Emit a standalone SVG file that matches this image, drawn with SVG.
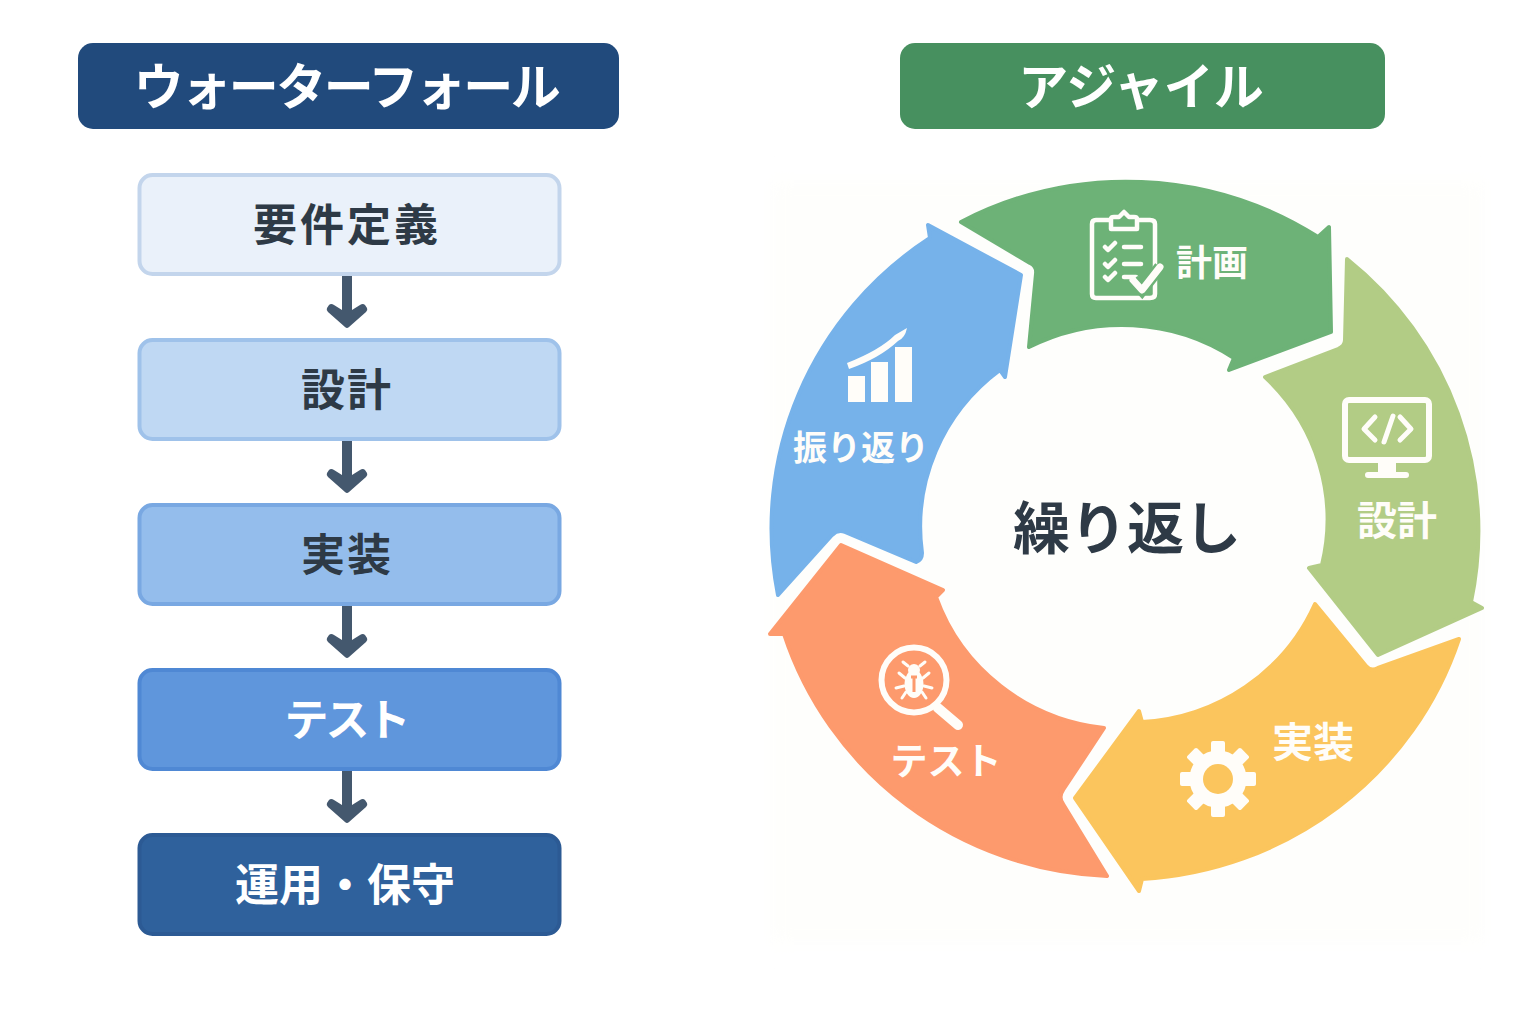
<svg xmlns="http://www.w3.org/2000/svg" width="1536" height="1024" viewBox="0 0 1536 1024">
<style>
text{font-family:"Noto Sans CJK JP","Noto Sans",sans-serif;text-anchor:middle;dominant-baseline:central}
.hd{font-size:50px;font-weight:700;fill:#fff}
.bx{font-size:44px;font-weight:700;fill:#2e3a46}
.lb{font-weight:700;fill:#fffdf9}
.seg{stroke-width:4;stroke-linejoin:round}
.ic{fill:none;stroke:#fffdf9;stroke-linecap:round;stroke-linejoin:round}
.if{fill:#fffdf9}
.arr{fill:#44586e}
</style>
<defs><filter id="soft" x="-5%" y="-5%" width="110%" height="110%"><feGaussianBlur stdDeviation="10"/></filter>
<path id="ar" d="M342,276H352V310L360,305Q363,303 365,305L367,308Q368,310 366,312L349,327Q347,329 345,327L328,312Q326,310 327,308L329,305Q331,303 334,305L342,310Z"/></defs>
<rect width="1536" height="1024" fill="#fff"/>
<rect x="770" y="180" width="715" height="765" fill="#fefefc" filter="url(#soft)"/>

<g id="header-waterfall"><rect x="78" y="43" width="541" height="86" rx="15" fill="#214a7c"/><text class="hd" x="346" y="83" letter-spacing="-2.500">ウォーターフォール</text></g>
<g id="header-agile"><rect x="900" y="43" width="485" height="86" rx="15" fill="#47905f"/><text class="hd" x="1141" y="83">アジャイル</text></g>

<g id="connectors" class="arr">
<use href="#ar"/><use href="#ar" y="165"/><use href="#ar" y="330"/><use href="#ar" y="495"/>
</g>

<g id="wf-1"><rect x="139.500" y="175" width="420" height="99" rx="13" fill="#eaf1fa" stroke="#c3d5ec" stroke-width="4"/><text class="bx" x="347" y="222" letter-spacing="3">要件定義</text></g>
<g id="wf-2"><rect x="139.500" y="340" width="420" height="99" rx="13" fill="#bfd8f3" stroke="#9fc2ea" stroke-width="4"/><text class="bx" x="347" y="387" letter-spacing="2">設計</text></g>
<g id="wf-3"><rect x="139.500" y="505" width="420" height="99" rx="13" fill="#94bdec" stroke="#79a8e2" stroke-width="4"/><text class="bx" x="347" y="552" letter-spacing="2">実装</text></g>
<g id="wf-4"><rect x="139.500" y="670" width="420" height="99" rx="13" fill="#5f96dc" stroke="#4f88d4" stroke-width="4"/><text class="bx" x="346" y="717" style="fill:#fff" letter-spacing="-3">テスト</text></g>
<g id="wf-5"><rect x="139.500" y="835" width="420" height="99" rx="13" fill="#2f619c" stroke="#2c5a94" stroke-width="4"/><text class="bx" x="345" y="882" style="fill:#fff">運用・保守</text></g>

<g id="seg-plan">
<path class="seg" fill="#6db277" stroke="#6db277" d="M961,222A355 350 0 0 1 1318,237L1329,227L1331,332L1229,370L1234,358A202 197 0 0 0 1029,347L1036,274Q1037,266 1030,263Z"/>
<g class="ic" stroke-width="4.500"><path d="M1110,220H1096Q1092,220 1092,224V294Q1092,298 1096,298H1150Q1155,298 1155,294V224Q1155,220 1150,220H1138"/><path d="M1111,229V219Q1111,217 1114,217H1119L1124,212L1129,217H1134Q1137,217 1137,219V229Z"/>
<path d="M1105,247L1108,250L1115,243M1105,264L1108,267L1115,260M1105,277L1108,280L1115,273M1124,247H1141M1124,264H1141M1124,277H1136"/></g>
<path d="M1133,280L1142,290L1160,267" fill="none" stroke="#6db277" stroke-width="12"/>
<path class="ic" stroke-width="7" d="M1133,280L1142,290L1160,267"/>
<text class="lb" x="1212" y="260" font-size="36">計画</text>
</g>

<g id="seg-design">
<path class="seg" fill="#b2cc85" stroke="#b2cc85" d="M1347,259A355 350 0 0 1 1471,602L1482,608L1378,655L1309,568L1322,565A202 197 0 0 0 1265,377L1338,349Q1345,346 1345,340Z"/>
<rect class="ic" x="1345" y="400" width="84" height="60" rx="4" stroke-width="6"/>
<path class="if" d="M1378,462H1396V472H1406Q1409,472 1409,475Q1409,478 1406,478H1368Q1365,478 1365,475Q1365,472 1368,472H1378Z"/>
<path class="ic" stroke-width="5" d="M1375,417L1364,429L1375,440M1393,416L1384,442M1400,417L1411,429L1400,440"/>
<text class="lb" x="1397" y="518" font-size="40">設計</text>
</g>

<g id="seg-impl">
<path class="seg" fill="#fbc55d" stroke="#fbc55d" d="M1459,639A355 350 0 0 1 1142,879L1139,891L1075,798L1139,711L1142,722A202 197 0 0 0 1315,604L1366,666Q1371,672 1378,668Z"/>
<circle class="ic" cx="1218" cy="779" r="21.500" stroke-width="14"/>
<g class="if"><rect x="1211" y="741" width="14" height="76" rx="2"/><rect x="1211" y="741" width="14" height="76" rx="2" transform="rotate(45 1218 779)"/><rect x="1211" y="741" width="14" height="76" rx="2" transform="rotate(90 1218 779)"/><rect x="1211" y="741" width="14" height="76" rx="2" transform="rotate(135 1218 779)"/></g>
<circle cx="1218" cy="779" r="15" fill="#fbc55d"/>
<text class="lb" x="1313" y="739" font-size="41">実装</text>
</g>

<g id="seg-test">
<path class="seg" fill="#fd9a6d" stroke="#fd9a6d" d="M841,545L943,590L936,597A202 197 0 0 0 1104,728L1063,790Q1058,797 1063,804L1107,876A355 350 0 0 1 784,634L770,634Z"/>
<circle class="ic" cx="914" cy="680" r="32.500" stroke-width="6"/>
<path class="ic" stroke-width="10" d="M938,708L958,725"/>
<ellipse class="if" cx="914" cy="684" rx="9.500" ry="14"/>
<circle class="if" cx="914" cy="670" r="6"/>
<path d="M911,677H917M914,677V692" stroke="#fd9a6d" stroke-width="3"/>
<path class="ic" stroke-width="3" d="M908,666L903,662M920,666L925,662M905,678L899,673M923,678L929,673M904,686L896,688M924,686L932,688M906,692L902,698M922,692L926,698"/>
<text class="lb" x="946" y="759" font-size="37">テスト</text>
</g>

<g id="seg-review">
<path class="seg" fill="#76b2ea" stroke="#76b2ea" d="M928,225L930,238A350 347 0 0 0 778,595L832,535Q838,529 845,532L916,562Q922,560 922,553A202 197 0 0 1 1000,370L1005,377L1021,275Z"/>
<g class="if"><rect x="848" y="376" width="17" height="26"/><rect x="871" y="362" width="17" height="40"/><rect x="895" y="347" width="17" height="55"/><path d="M847,363Q880,350 895,335L907,328Q905,338 898,341Q880,358 849,369Z"/></g>
<text class="lb" x="861" y="445" font-size="34">振り返り</text>
</g>

<g id="center"><text x="1127" y="524" font-size="57" font-weight="700" fill="#2e3a46">繰り返し</text></g>
</svg>
